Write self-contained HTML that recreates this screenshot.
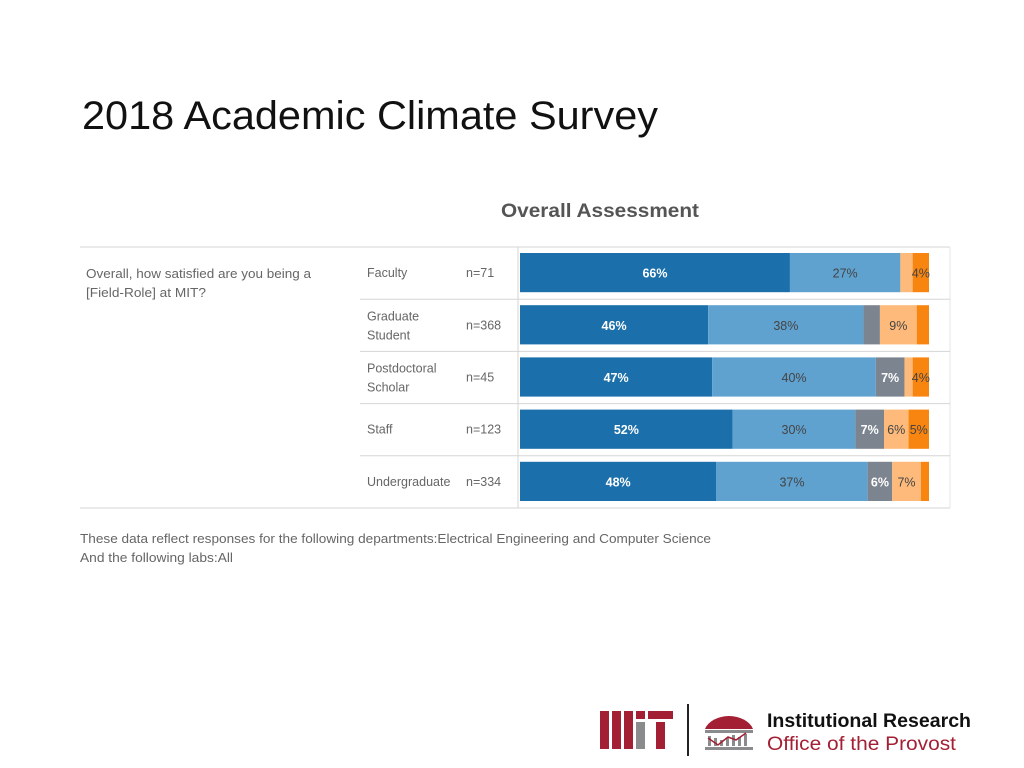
<!DOCTYPE html>
<html><head><meta charset="utf-8"><style>
html,body{margin:0;padding:0;background:#fff;width:1024px;height:768px;overflow:hidden}
svg{display:block;font-family:"Liberation Sans",sans-serif}
</style></head><body>
<svg width="1024" height="768" viewBox="0 0 1024 768">
<text x="82" y="129" font-size="40" fill="#111" textLength="576" lengthAdjust="spacingAndGlyphs">2018 Academic Climate Survey</text>
<text x="501" y="217" font-size="19" font-weight="bold" fill="#555" textLength="198" lengthAdjust="spacingAndGlyphs">Overall Assessment</text>
<g id="table"></g>
<text x="86" y="278" font-size="12.5" fill="#666" textLength="225" lengthAdjust="spacingAndGlyphs">Overall, how satisfied are you being a</text>
<text x="86" y="297" font-size="12.5" fill="#666" textLength="120" lengthAdjust="spacingAndGlyphs">[Field-Role] at MIT?</text>
<text x="80" y="543" font-size="12.5" fill="#666" textLength="631" lengthAdjust="spacingAndGlyphs">These data reflect responses for the following departments:Electrical Engineering and Computer Science</text>
<text x="80" y="562" font-size="12.5" fill="#666" textLength="153" lengthAdjust="spacingAndGlyphs">And the following labs:All</text>
<g>
<rect x="600" y="711" width="9" height="38" fill="#a31f34"/>
<rect x="612" y="711" width="9" height="38" fill="#a31f34"/>
<rect x="624" y="711" width="9" height="38" fill="#a31f34"/>
<rect x="636" y="711" width="9" height="8" fill="#a31f34"/>
<rect x="636" y="722" width="9" height="27" fill="#8a8b8c"/>
<rect x="648" y="711" width="25" height="8" fill="#a31f34"/>
<rect x="656" y="722" width="9" height="27" fill="#a31f34"/>
<rect x="687" y="704" width="2" height="52" fill="#222"/>
<path d="M705 729 A25 18 0 0 1 753 729 Z" fill="#a31f34"/>
<rect x="705" y="730" width="48" height="3" fill="#8a8b8c"/>
<rect x="705" y="747" width="48" height="3" fill="#8a8b8c"/>
<rect x="708" y="736" width="3" height="10" fill="#8a8b8c"/>
<rect x="714" y="738" width="3" height="8" fill="#8a8b8c"/>
<rect x="720" y="740" width="3" height="6" fill="#8a8b8c"/>
<rect x="726" y="738" width="3" height="8" fill="#8a8b8c"/>
<rect x="732" y="735" width="3" height="11" fill="#8a8b8c"/>
<rect x="738" y="737" width="3" height="9" fill="#8a8b8c"/>
<rect x="744" y="734" width="3" height="12" fill="#8a8b8c"/>
<polyline points="708,738 718,745 728,737 736,740 746,733" fill="none" stroke="#a31f34" stroke-width="1.5"/>
</g>
<text x="767" y="727" font-size="19" font-weight="bold" fill="#111" textLength="204" lengthAdjust="spacingAndGlyphs">Institutional Research</text>
<text x="767" y="750" font-size="19" fill="#a31f34" textLength="189" lengthAdjust="spacingAndGlyphs">Office of the Provost</text>
</svg>
<script>
const roles = ["Faculty", "Graduate Student", "Postdoctoral Scholar", "Staff", "Undergraduate"];
const nLabels = ["n=71", "n=368", "n=45", "n=123", "n=334"];
const verySatisfied = [66, 46, 47, 52, 48];
const satisfied = [27, 38, 40, 30, 37];
const neutral = [0, 4, 7, 7, 6];
const dissatisfied = [3, 9, 2, 6, 7];
const veryDissatisfied = [4, 3, 4, 5, 2];
const seriesNames = ["very-satisfied", "satisfied", "neutral", "dissatisfied", "very-dissatisfied"];

const NS = "http://www.w3.org/2000/svg";
const tableG = document.getElementById("table");
const colors = ["#1b6fab", "#5fa2d0", "#7b848f", "#fdba7b", "#f98511"];
const textColors = ["#fff", "#444", "#fff", "#444", "#444"];
const x0 = 520, x1 = 929;
const xs = v => (x1 - x0) * v / 100;
const rowTop = 247, rowH = 52.2;
function el(tag, attrs) { const e = document.createElementNS(NS, tag); for (const k in attrs) e.setAttribute(k, attrs[k]); tableG.appendChild(e); return e; }

const topBorder = el("line", {x1: 80, y1: rowTop, x2: 950, y2: rowTop, stroke: "#d6d6d6"});


const botBorder = el("line", {x1: 80, y1: rowTop + rowH * 5, x2: 950, y2: rowTop + rowH * 5, stroke: "#d6d6d6"});


const vl = el("line", {x1: 518, y1: rowTop, x2: 518, y2: rowTop + rowH * 5, stroke: "#d6d6d6"});


const vr = el("line", {x1: 950, y1: rowTop, x2: 950, y2: rowTop + rowH * 5, stroke: "#e4e4e4"});



roles.forEach((r, i) => {
  const yT = rowTop + rowH * i;
  if (i > 0) {
    const sep = el("line", {x1: 360, y1: yT, x2: 950, y2: yT, stroke: "#d6d6d6"});
    
    
  }
  const cy = yT + rowH / 2;
  const words = r.indexOf(" ") < 0 ? [r] : r.split(" ");
  words.forEach((w, k) => {
    const t = el("text", {x: 367, y: cy + 4 + (words.length > 1 ? (k === 0 ? -9 : 10) : 0), "font-size": 12.5, fill: "#666"});
    t.textContent = w;
    
    
  });
  const nt = el("text", {x: 466, y: cy + 4, "font-size": 12.5, fill: "#666"});
  nt.textContent = nLabels[i];
  
  
  const vals = [verySatisfied[i], satisfied[i], neutral[i], dissatisfied[i], veryDissatisfied[i]];
  let acc = 0;
  vals.forEach((v, s) => {
    const bx = x0 + xs(acc);
    const w = xs(v);
    if (v > 0) {
      const rc = el("rect", {x: bx, y: yT + 6, width: w, height: rowH - 13, fill: colors[s]});
      
      
      const show = v >= 6 || (s === 4 && v >= 4);
      if (show) {
        const t = el("text", {x: bx + w / 2, y: cy + 4.5, "font-size": 12.5, fill: textColors[s], "text-anchor": "middle", "font-weight": s === 0 || s === 2 ? "bold" : "normal"});
        t.textContent = v + "%";
        
        
      }
    }
    acc += v;
  });
});
</script>
</body></html>
